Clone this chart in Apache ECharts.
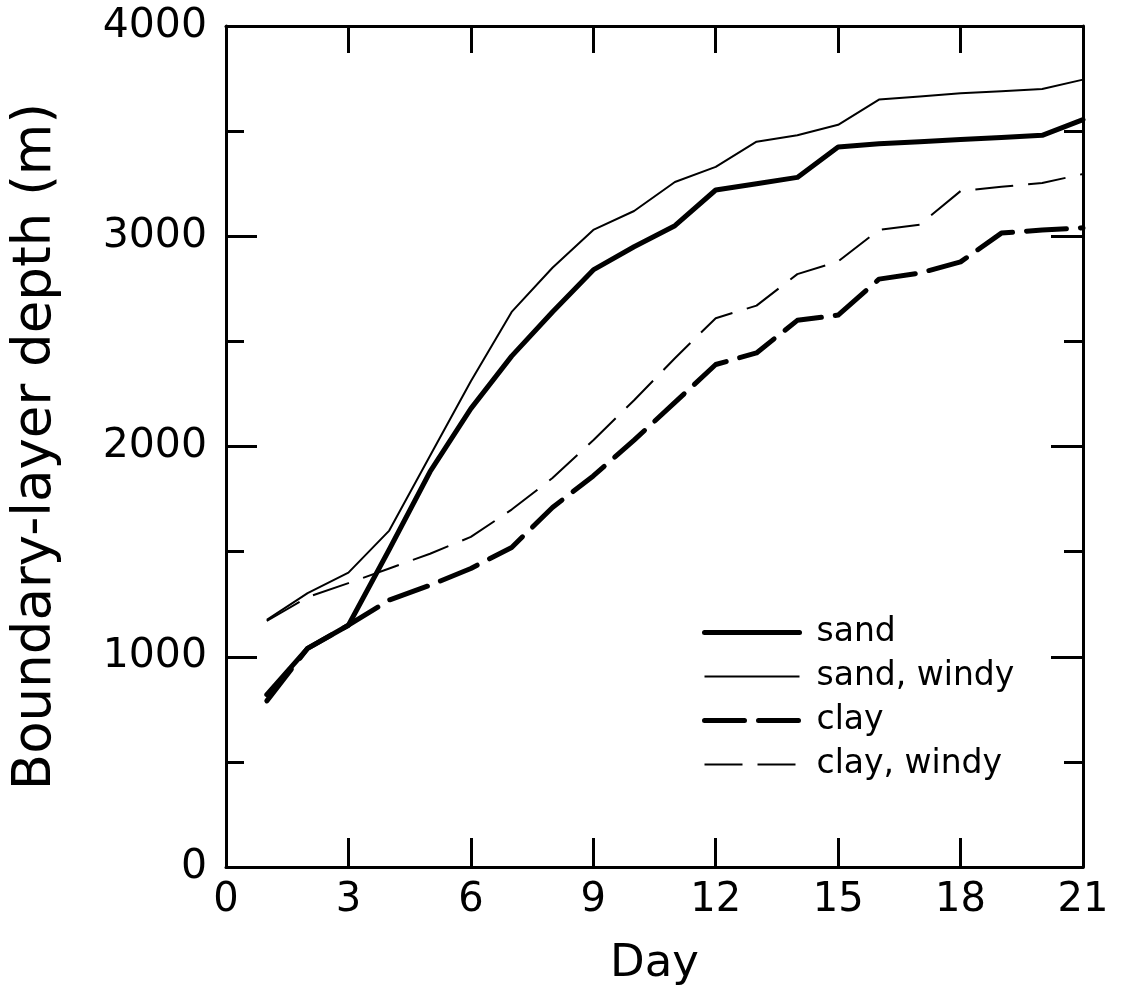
<!DOCTYPE html>
<html>
<head>
<meta charset="utf-8">
<script src="https://cdn.jsdelivr.net/npm/echarts@6/dist/echarts.min.js"></script>
<style>
  html, body { margin: 0; padding: 0; background: #fff; }
  #chart { width: 1125px; height: 994px; }
</style>
</head>
<body>
<div id="chart"></div>
<script>
// Boundary-layer depth (m) by day for each surface case
const days = [1, 2, 3, 4, 5, 6, 7, 8, 9, 10, 11, 12, 13, 14, 15, 16, 17, 18, 19, 20, 21];
const sand      = [820, 1040, 1150, 1510, 1880, 2180, 2430, 2640, 2840, 2950, 3050, 3220, 3250, 3280, 3425, 3440, 3450, 3460, 3470, 3480, 3555];
const sandWindy = [1175, 1303, 1400, 1600, 1956, 2310, 2640, 2850, 3030, 3120, 3258, 3330, 3450, 3480, 3530, 3650, 3665, 3680, 3690, 3700, 3745];
const clay      = [790, 1040, 1150, 1270, 1340, 1420, 1520, 1710, 1860, 2030, 2210, 2390, 2445, 2600, 2625, 2796, 2825, 2878, 3015, 3030, 3040];
const clayWindy = [1170, 1284, 1350, 1420, 1490, 1570, 1700, 1850, 2030, 2220, 2420, 2610, 2670, 2820, 2880, 3030, 3055, 3215, 3235, 3253, 3296];

const xTicks = [0, 3, 6, 9, 12, 15, 18, 21];
const yTicks = [0, 1000, 2000, 3000, 4000];

const FONT = 'DejaVu Sans';
const INK = '#000';

const pairs = arr => days.map((d, i) => [d, arr[i]]);

const thick = 5, thin = 2;
const dashThick = [40, 14], dashThin = [38, 15];

const chart = echarts.init(document.getElementById('chart'), null, { renderer: 'canvas' });

const axisLine = { show: true, onZero: false, lineStyle: { color: INK, width: 3 } };
// legend keeps only the line sample, no marker dot
const noMarker = { color: 'transparent', borderWidth: 0, opacity: 0 };

chart.setOption({
  animation: false,
  backgroundColor: '#fff',
  grid: { left: 226, top: 26, right: 42, bottom: 127, containLabel: false },
  legend: {
    orient: 'vertical',
    left: 702,
    top: 616,
    padding: 0,
    itemWidth: 95,
    itemHeight: 20,
    itemGap: 11,
    textStyle: { fontFamily: FONT, fontSize: 33, color: INK, lineHeight: 33, padding: [0, 0, 0, 12] },
    data: [
      { name: 'sand', itemStyle: noMarker, lineStyle: { width: thick, type: 'solid', color: INK } },
      { name: 'sand, windy', itemStyle: noMarker, lineStyle: { width: thin, type: 'solid', color: INK } },
      { name: 'clay', itemStyle: noMarker, lineStyle: { width: thick, type: dashThick, color: INK } },
      { name: 'clay, windy', itemStyle: noMarker, lineStyle: { width: thin, type: dashThin, color: INK } }
    ]
  },
  xAxis: [
    {
      type: 'value', position: 'bottom', min: xTicks[0], max: xTicks[xTicks.length - 1], interval: 3,
      axisLine,
      axisTick: { show: true, inside: true, length: 29, lineStyle: { color: INK, width: 3 } },
      axisLabel: { show: true, color: INK, fontFamily: FONT, fontSize: 40, margin: 14 },
      splitLine: { show: false },
      name: 'Day', nameLocation: 'middle', nameGap: 75,
      nameTextStyle: { fontFamily: FONT, fontSize: 45, color: INK }
    },
    {
      type: 'value', position: 'top', min: xTicks[0], max: xTicks[xTicks.length - 1], interval: 3,
      axisLine,
      axisTick: { show: true, inside: true, length: 27, lineStyle: { color: INK, width: 3 } },
      axisLabel: { show: false },
      splitLine: { show: false }
    }
  ],
  yAxis: [
    {
      type: 'value', position: 'left', min: yTicks[0], max: yTicks[yTicks.length - 1], interval: 1000,
      axisLine,
      axisTick: { show: true, inside: true, length: 31, lineStyle: { color: INK, width: 3 } },
      minorTick: { show: true, splitNumber: 2, length: 18, lineStyle: { color: INK, width: 3 } },
      axisLabel: { show: true, color: INK, fontFamily: FONT, fontSize: 41, margin: 19, formatter: v => String(v) },
      splitLine: { show: false },
      minorSplitLine: { show: false },
      name: 'Boundary-layer depth (m)', nameLocation: 'middle', nameGap: 163,
      nameTextStyle: { fontFamily: FONT, fontSize: 53, color: INK }
    },
    {
      type: 'value', position: 'right', min: yTicks[0], max: yTicks[yTicks.length - 1], interval: 1000,
      axisLine,
      axisTick: { show: true, inside: true, length: 32, lineStyle: { color: INK, width: 3 } },
      minorTick: { show: true, splitNumber: 2, length: 19, lineStyle: { color: INK, width: 3 } },
      axisLabel: { show: false },
      splitLine: { show: false },
      minorSplitLine: { show: false }
    }
  ],
  series: [
    { name: 'sand', type: 'line', data: pairs(sand), symbol: 'none', color: INK,
      lineStyle: { color: INK, width: thick, type: 'solid', join: 'round', cap: 'round' } },
    { name: 'sand, windy', type: 'line', data: pairs(sandWindy), symbol: 'none', color: INK,
      lineStyle: { color: INK, width: thin, type: 'solid', join: 'round' } },
    { name: 'clay', type: 'line', data: pairs(clay), symbol: 'none', color: INK,
      lineStyle: { color: INK, width: thick, type: dashThick, join: 'round', cap: 'round' } },
    { name: 'clay, windy', type: 'line', data: pairs(clayWindy), symbol: 'none', color: INK,
      lineStyle: { color: INK, width: thin, type: dashThin, join: 'round' } }
  ]
});
</script>
</body>
</html>
